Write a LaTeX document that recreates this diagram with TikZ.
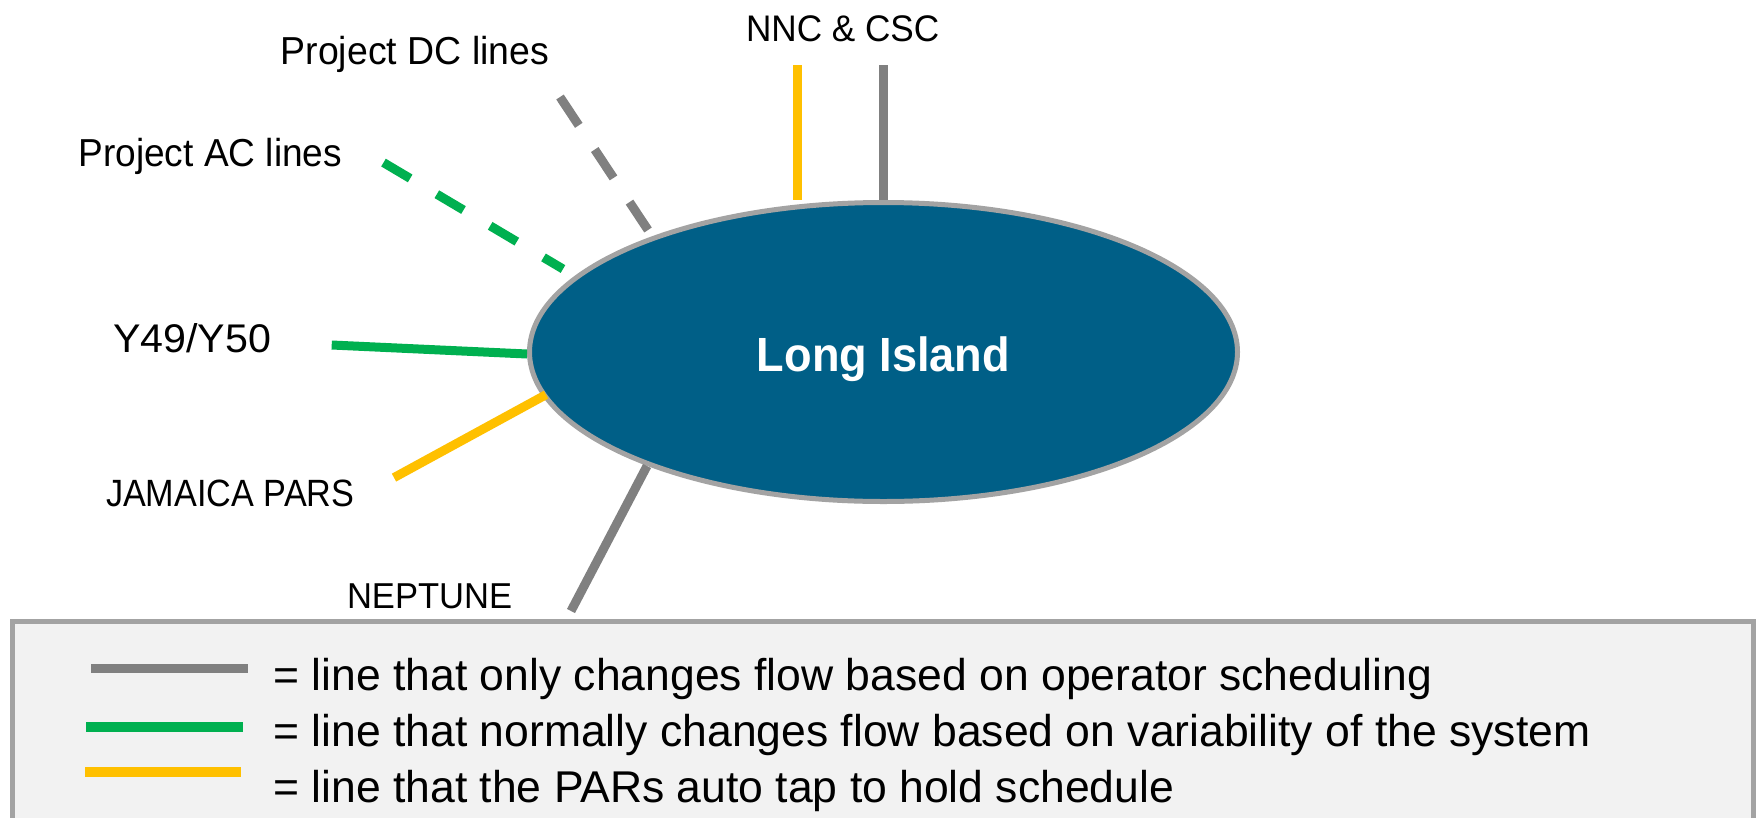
\documentclass[tikz,border=0pt]{standalone}
\usepackage{fontspec}
\setmainfont{Liberation Sans}
\usetikzlibrary{shapes.geometric}
\definecolor{lgray}{HTML}{808080}
\definecolor{lgreen}{HTML}{00B050}
\definecolor{lyellow}{HTML}{FFC000}
\definecolor{liblue}{HTML}{005F87}
\definecolor{rimgray}{HTML}{A3A3A3}
\definecolor{boxfill}{HTML}{F2F2F2}
\newcommand{\lblsize}[1]{\fontsize{#1}{#1}\selectfont}
\begin{document}
\begin{tikzpicture}[x=1pt,y=-1pt,
  lbl/.style={inner sep=0pt,outer sep=0pt,anchor=base west},
  legtext/.style={inner sep=0pt,outer sep=0pt,anchor=base west,font=\lblsize{44.5}},
  feeder/.style={line width=9pt},
  dcdash/.style={feeder,color=lgray,dash pattern=on 34pt off 29pt},
  acdash/.style={feeder,color=lgreen,dash pattern=on 31pt off 31pt},
  legline/.style={line width=9.3pt}]
\clip (0,0) rectangle (1758,817);
\fill[white] (0,0) rectangle (1758,817);

% legend box
\node[draw=rimgray,fill=boxfill,line width=5pt,minimum width=1741pt,minimum height=230pt,
      inner sep=0pt,outer sep=0pt,anchor=north west] (legend) at (12.5,621) {};

% island
\node[ellipse,draw=rimgray,line width=5pt,fill=liblue,minimum width=708pt,minimum height=299pt,
      inner sep=0pt] (LI) at (883.5,352) {};
\node[inner sep=0pt,anchor=base,text=white,font=\bfseries\lblsize{48}] (LIt) at (883.5,371.7)
  {\scalebox{0.94}[1]{Long Island}};

% labels
\node[lbl,font=\lblsize{39}] (dc) at (280.7,64) {\scalebox{0.96}[1]{Project DC lines}};
\node[lbl,font=\lblsize{39}] (ac) at (78.5,166.7) {\scalebox{0.95}[1]{Project AC lines}};
\node[lbl,font=\lblsize{37}] (nnc) at (746,41.7) {\scalebox{0.95}[1]{NNC \& CSC}};
\node[lbl,font=\lblsize{40}] (y49) at (113,352.3) {\scalebox{1.03}[1]{Y49/Y50}};
\node[lbl,font=\lblsize{38}] (jam) at (106,506.7) {\scalebox{0.9}[1]{JAMAICA PARS}};
\node[lbl,font=\lblsize{36}] (nep) at (347,608.3) {\scalebox{0.96}[1]{NEPTUNE}};

% line end points
\coordinate (ac0) at (383.5,162.6); \coordinate (ac1) at (563,269);
\coordinate (dc0) at (560,97);      \coordinate (dc1) at (648,230);
\coordinate (nnc0) at (797,65);     \coordinate (nnc1) at (797,200);
\coordinate (csc0) at (883.5,65);   \coordinate (csc1) at (883.5,200);
\coordinate (y0) at (331.7,345);    \coordinate (y1) at (527,354);
\coordinate (j0) at (394,477.6);    \coordinate (j1) at (546,394.7);
\coordinate (n0) at (571,611);      \coordinate (n1) at (647,466);

\draw[acdash] (ac0) -- (ac1);
\draw[dcdash] (dc0) -- (dc1);
\draw[feeder,lyellow] (nnc0) -- (nnc1);
\draw[feeder,lgray] (csc0) -- (csc1);
\draw[feeder,lgreen] (y0) -- (y1);
\draw[feeder,lyellow] (j0) -- (j1);
\draw[feeder,lgray] (n0) -- (n1);

% legend
\coordinate (g0) at (91,668.7);  \coordinate (g1) at (247.7,668.7);
\coordinate (e0) at (86,727);    \coordinate (e1) at (242.7,727);
\coordinate (o0) at (85,772);    \coordinate (o1) at (241,772);
\draw[legline,lgray] (g0) -- (g1);
\draw[legline,lgreen] (e0) -- (e1);
\draw[legline,lyellow] (o0) -- (o1);
\node[legtext] (t1) at (273.3,690) {= line that only changes flow based on operator scheduling};
\node[legtext] (t2) at (273.3,746.7) {= line that normally changes flow based on variability of the system};
\node[legtext] (t3) at (273.3,802.7) {= line that the PARs auto tap to hold schedule};
\end{tikzpicture}
\end{document}
